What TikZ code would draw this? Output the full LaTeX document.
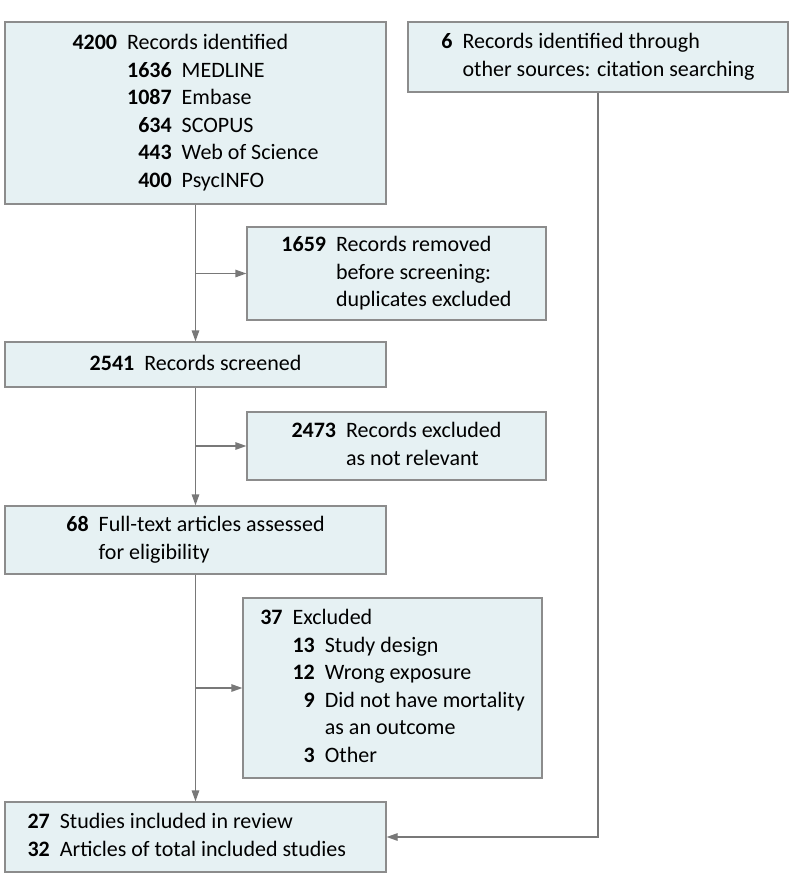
\documentclass[tikz,border=0pt]{standalone}
\usepackage{fontspec}
\setmainfont{Carlito}
\usepackage{tikz}
\usetikzlibrary{arrows.meta,positioning,calc}

\definecolor{boxfill}{RGB}{230,241,243}
\definecolor{boxline}{RGB}{140,140,140}
\definecolor{flowline}{RGB}{120,120,120}

\tikzset{
  stage/.style={draw=boxline,fill=boxfill,line width=1.3pt,inner sep=0pt,
    font=\fontsize{22pt}{27.6pt}\selectfont},
  flow/.style={draw=flowline,line width=1.3pt},
  flowarr/.style={flow,-{Triangle[length=11pt,width=7.5pt]}}
}

\begin{document}
\begin{tikzpicture}[x=1pt,y=-1pt]
      \useasboundingbox (0,0) rectangle (794,892);

      % left column
      \node[stage,minimum width=381pt,minimum height=182pt] at (195.5,113)(ident){%
        \begin{tabular}{@{}r@{\hspace{10pt}}r@{\hspace{10pt}}l@{}}
        \textbf{4200} & \multicolumn{2}{@{}l@{}}{Records identified}\\
         & \textbf{1636} & MEDLINE\\
         & \textbf{1087} & Embase\\
         & \textbf{634} & SCOPUS\\
         & \textbf{443} & Web of Science\\
         & \textbf{400} & PsycINFO
        \end{tabular}};
      \node[stage,minimum width=381pt,minimum height=45pt] at (195.5,364.5)(screen){%
        \begin{tabular}{@{}r@{\hspace{10pt}}l@{}}
        \textbf{2541} & Records screened
        \end{tabular}};
      \node[stage,minimum width=381pt,minimum height=68pt] at (195.5,540)(full){%
        \begin{tabular}{@{}r@{\hspace{10pt}}l@{}}
        \textbf{68} & Full-text articles assessed\\
         & for eligibility
        \end{tabular}};
      \node[stage,minimum width=381pt,minimum height=70pt] at (195.5,837)(incl){};
      \node[anchor=west,inner sep=0pt,font=\fontsize{22pt}{27.6pt}\selectfont]
        at ($(incl.west)+(23pt,0)$)(incltext){%
        \begin{tabular}{@{}r@{\hspace{10pt}}l@{}}
        \textbf{27} & Studies included in review\\
        \textbf{32} & Articles of total included studies
        \end{tabular}};

      % right column
      \node[stage,minimum width=380pt,minimum height=70pt] at (598,57)(other){%
        \begin{tabular}{@{}r@{\hspace{10pt}}l@{}}
        \textbf{6} & Records identified through\\
         & other sources: citation searching
        \end{tabular}};
      \node[stage,minimum width=299pt,minimum height=93pt] at (396.5,273.5)(dupl){%
        \begin{tabular}{@{}r@{\hspace{10pt}}l@{}}
        \textbf{1659} & Records removed\\
         & before screening:\\
         & duplicates excluded
        \end{tabular}};
      \node[stage,minimum width=299pt,minimum height=68pt] at (396.5,446)(notrel){%
        \begin{tabular}{@{}r@{\hspace{10pt}}l@{}}
        \textbf{2473} & Records excluded\\
         & as not relevant
        \end{tabular}};
      \node[stage,minimum width=299pt,minimum height=180pt] at (392.5,688)(excl){%
        \begin{tabular}{@{}r@{\hspace{10pt}}r@{\hspace{10pt}}l@{}}
        \textbf{37} & \multicolumn{2}{@{}l@{}}{Excluded}\\
         & \textbf{13} & Study design\\
         & \textbf{12} & Wrong exposure\\
         & \textbf{9} & Did not have mortality\\
         & & as an outcome\\
         & \textbf{3} & Other
        \end{tabular}};

      % connectors
      \draw[flowarr] (ident) -- (screen);
      \draw[flowarr] (screen) -- (full);
      \draw[flowarr] (full) -- (incl);
      \draw[flowarr] (ident.south |- dupl.west) -- (dupl.west);
      \draw[flowarr] (screen.south |- notrel.west) -- (notrel.west);
      \draw[flowarr] (full.south |- excl.west) -- (excl.west);
      \draw[flowarr] (other.south) |- (incl.east);
    \end{tikzpicture}
\end{document}
